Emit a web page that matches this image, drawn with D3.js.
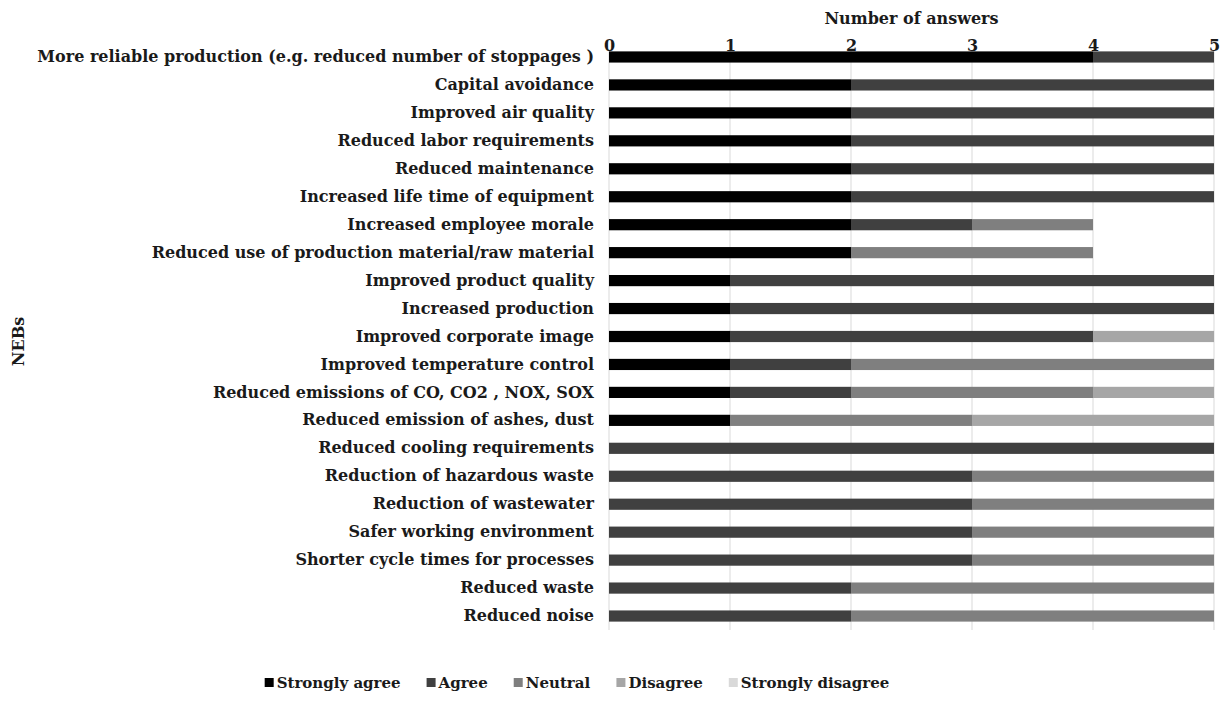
<!DOCTYPE html>
<html>
<head>
<meta charset="utf-8">
<script src="https://cdn.jsdelivr.net/npm/d3@7"></script>
<style>
  body { margin: 0; background: #fff; }
  svg text { font-family: "DejaVu Serif", serif; font-weight: bold; fill: #1a1a1a; }
</style>
</head>
<body>
<svg id="chart" width="1230" height="709"></svg>
<script>
const categories = [
  "More reliable production (e.g. reduced number of stoppages )",
  "Capital avoidance",
  "Improved air quality",
  "Reduced labor requirements",
  "Reduced maintenance",
  "Increased life time of equipment",
  "Increased employee morale",
  "Reduced use of production material/raw material",
  "Improved product quality",
  "Increased production",
  "Improved corporate image",
  "Improved temperature control",
  "Reduced emissions of CO, CO2 , NOX, SOX",
  "Reduced emission of ashes, dust",
  "Reduced cooling requirements",
  "Reduction of hazardous waste",
  "Reduction of wastewater",
  "Safer working environment",
  "Shorter cycle times for processes",
  "Reduced waste",
  "Reduced noise"
]
const stronglyAgree    = [4, 2, 2, 2, 2, 2, 2, 2, 1, 1, 1, 1, 1, 1, 0, 0, 0, 0, 0, 0, 0]
const agree            = [1, 3, 3, 3, 3, 3, 1, 0, 4, 4, 3, 1, 1, 0, 5, 3, 3, 3, 3, 2, 2]
const neutral          = [0, 0, 0, 0, 0, 0, 1, 2, 0, 0, 0, 3, 2, 2, 0, 2, 2, 2, 2, 3, 3]
const disagree         = [0, 0, 0, 0, 0, 0, 0, 0, 0, 0, 1, 0, 1, 2, 0, 0, 0, 0, 0, 0, 0]
const stronglyDisagree = [0, 0, 0, 0, 0, 0, 0, 0, 0, 0, 0, 0, 0, 0, 0, 0, 0, 0, 0, 0, 0]
const seriesNames = ["Strongly agree", "Agree", "Neutral", "Disagree", "Strongly disagree"]
const xTicks = [0, 1, 2, 3, 4, 5]

const colors = ["#000000", "#404040", "#7f7f7f", "#a6a6a6", "#d9d9d9"]

const svg = d3.select('#chart')
const plot = { left: 609, right: 1214, top: 43, bottom: 630 }

// table for the stack layout
const table = categories.map((c, i) => ({
  name: c,
  "Strongly agree": stronglyAgree[i],
  "Agree": agree[i],
  "Neutral": neutral[i],
  "Disagree": disagree[i],
  "Strongly disagree": stronglyDisagree[i]
}))
const stacked = d3.stack().keys(seriesNames)(table)

const x = d3.scaleLinear().domain([0, 5]).range([plot.left, plot.right])
const y = d3.scaleBand()
  .domain(categories)
  .range([plot.top, plot.bottom])
  .paddingInner(0.6)
  .paddingOuter(0.3)
const color = d3.scaleOrdinal().domain(seriesNames).range(colors)

// gridlines
svg.append('g')
  .selectAll('line')
  .data(xTicks)
  .join('line')
  .attr('x1', d => x(d)).attr('x2', d => x(d))
  .attr('y1', 50).attr('y2', plot.bottom)
  .attr('stroke', '#d9d9d9')
  .attr('stroke-width', 1)

// bars
svg.append('g')
  .selectAll('g')
  .data(stacked)
  .join('g')
  .attr('fill', d => color(d.key))
  .selectAll('rect')
  .data(d => d.filter(s => s[1] > s[0]))
  .join('rect')
  .attr('x', d => x(d[0]))
  .attr('y', d => y(d.data.name))
  .attr('width', d => x(d[1]) - x(d[0]))
  .attr('height', y.bandwidth())

// top axis
const xAxis = svg.append('g')
  .attr('transform', `translate(0,51)`)
  .call(d3.axisTop(x).tickValues(xTicks).tickFormat(d3.format('d')).tickSize(0).tickPadding(0))
xAxis.select('.domain').remove()
xAxis.selectAll('text').attr('font-size', 16).attr('dy', '0em')
  .style('font-family', '"DejaVu Serif", serif').style('font-weight', 'bold')

// left axis labels
const yAxis = svg.append('g')
  .attr('transform', `translate(${plot.left},0)`)
  .call(d3.axisLeft(y).tickSize(0).tickPadding(15))
yAxis.select('.domain').remove()
yAxis.selectAll('text').attr('font-size', 16)
  .style('font-family', '"DejaVu Serif", serif').style('font-weight', 'bold')

// axis titles
svg.append('text')
  .attr('x', (plot.left + plot.right) / 2)
  .attr('y', 24)
  .attr('text-anchor', 'middle')
  .attr('font-size', 16)
  .text('Number of answers')

svg.append('text')
  .attr('transform', `translate(24,${(plot.top + plot.bottom) / 2 + 5}) rotate(-90)`)
  .attr('text-anchor', 'middle')
  .attr('font-size', 16)
  .text('NEBs')

// legend
const legend = svg.append('g').attr('transform', 'translate(0,683)')
const items = legend.selectAll('g')
  .data(seriesNames)
  .join('g')
items.append('rect')
  .attr('width', 9).attr('height', 9)
  .attr('y', -5)
  .attr('fill', d => color(d))
items.append('text')
  .attr('x', 12)
  .attr('y', 0)
  .attr('dy', '0.35em')
  .attr('font-size', 15)
  .text(d => d)

const widths = []
items.each(function () {
  widths.push(this.getBBox().width)
})
const gap = 26
const total = d3.sum(widths) + gap * (widths.length - 1)
let start = 577 - total / 2
items.attr('transform', (d, i) => {
  const tx = start
  start += widths[i] + gap
  return `translate(${tx},0)`
})
</script>
</body>
</html>
